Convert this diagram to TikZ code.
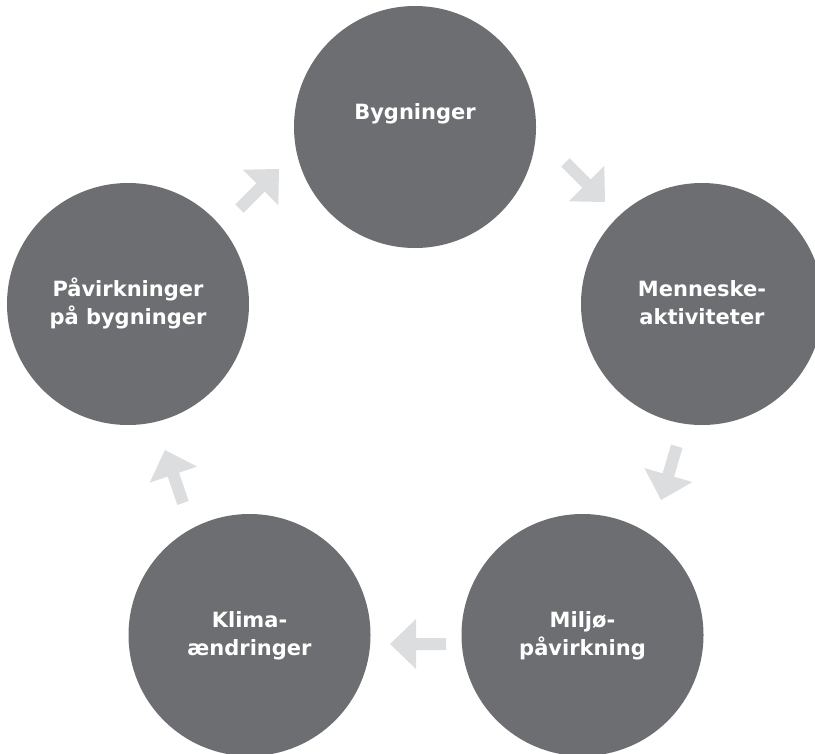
\documentclass[tikz,border=0pt]{standalone}
\usepackage{fontspec}
\setmainfont{DejaVu Sans}
\definecolor{circgray}{RGB}{109,110,113}
\definecolor{arrowgray}{RGB}{220,221,222}
\begin{document}
\begin{tikzpicture}[x=1bp,y=-1bp,
  stage/.style={circle, fill=circgray, minimum size=242bp, inner sep=0pt},
  lbl/.style={anchor=base, text=white, font=\fontsize{21bp}{25bp}\selectfont\bfseries, inner sep=0pt},
  blockarrow/.pic={\fill[arrowgray] (-28,-6) -- (2,-6) -- (2,-25) -- (28,0) -- (2,25) -- (2,6) -- (-28,6) -- cycle;}]
\useasboundingbox (0,0) rectangle (815,754);
\clip (0,0) rectangle (815,754);
\node[stage] (byg) at (415,127) {};
\node[stage] (menn) at (702,304) {};
\node[stage] (milj) at (582.5,635) {};
\node[stage] (klim) at (249.5,635) {};
\node[stage] (paav) at (128,304) {};
\node[lbl] (tbyg) at (415,119) {Bygninger};
\node[lbl] (tmenna) at (702,296) {Menneske-};
\node[lbl] (tmennb) at (702,324) {aktiviteter};
\node[lbl] (tmilja) at (582.5,627) {Miljø-};
\node[lbl] (tmiljb) at (582.5,655) {påvirkning};
\node[lbl] (tklima) at (249.5,627) {Klima-};
\node[lbl] (tklimb) at (249.5,655) {ændringer};
\node[lbl] (tpaava) at (128,296) {Påvirkninger};
\node[lbl] (tpaavb) at (128,324) {på bygninger};
\coordinate (ca) at (259.2,188.8);
\coordinate (cb) at (585.2,182.2);
\coordinate (cc) at (668.9,473.1);
\coordinate (cd) at (418,644);
\coordinate (ce) at (174,476.5);
\pic[rotate=45] (arra) at (ca) {blockarrow};
\pic[rotate=-45] (arrb) at (cb) {blockarrow};
\pic[rotate=253.7] (arrc) at (cc) {blockarrow};
\pic[rotate=180] (arrd) at (cd) {blockarrow};
\pic[rotate=108.8] (arre) at (ce) {blockarrow};
\end{tikzpicture}
\end{document}
